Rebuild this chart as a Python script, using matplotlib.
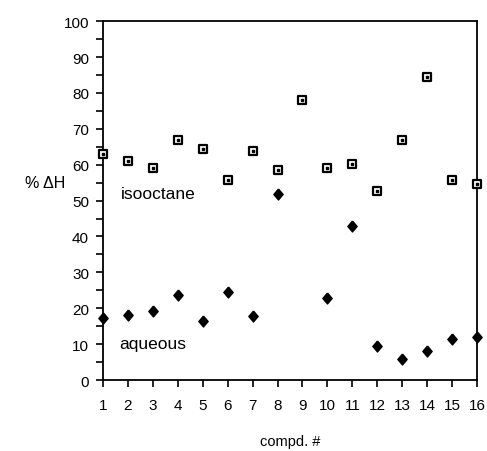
import matplotlib
matplotlib.use("Agg")
import matplotlib.pyplot as plt
from matplotlib.ticker import MultipleLocator

plt.rcParams['font.family'] = ['Liberation Sans', 'DejaVu Sans']

# compound numbers and % dH values
compd = [1, 2, 3, 4, 5, 6, 7, 8, 9, 10, 11, 12, 13, 14, 15, 16]
isooctane = [63.1, 61.1, 59.2, 66.8, 64.4, 55.6, 63.7, 58.6, 78.0, 59.0,
             60.1, 52.7, 66.8, 84.5, 55.6, 54.6]
# no aqueous value for compound 9
aq_compd = [1, 2, 3, 4, 5, 6, 7, 8, 10, 11, 12, 13, 14, 15, 16]
aqueous = [17.2, 18.0, 19.1, 23.7, 16.5, 24.4, 17.8, 51.8, 22.8, 42.8,
           9.5, 5.8, 8.2, 11.4, 12.1]

fig = plt.figure(figsize=(4.87, 4.52), dpi=100)
ax = fig.add_axes([0.2115, 0.157, 0.768, 0.794])

# tall diamond marker
diamond = [(0, 1), (0.85, 0), (0, -1), (-0.85, 0), (0, 1)]

ax.scatter(compd, isooctane, marker='s', s=30, facecolor='white',
           edgecolor='black', linewidth=1.6, zorder=3, clip_on=False)
ax.scatter(compd, isooctane, marker='s', s=2, color='black', zorder=4,
           clip_on=False)
ax.scatter(aq_compd, aqueous, marker=diamond, s=62, color='black',
           zorder=3, clip_on=False)

ax.text(1.7, 52, 'isooctane', fontsize=12.5, va='center', ha='left')
ax.text(1.65, 10.3, 'aqueous', fontsize=12.5, va='center', ha='left')

ax.set_xlim(1, 16)
ax.set_ylim(0, 100)
ax.set_xticks(compd)
ax.yaxis.set_major_locator(MultipleLocator(10))
ax.yaxis.set_minor_locator(MultipleLocator(5))
ax.tick_params(which='both', direction='out', length=5, width=1.2,
               labelsize=11, pad=5)
ax.tick_params(axis='x', pad=8)

for sp in ax.spines.values():
    sp.set_linewidth(1.3)

ax.set_xlabel('compd. #', fontsize=10.5, labelpad=16)
ax.set_ylabel('% ΔH', fontsize=11.5, rotation=0, labelpad=0)
ax.yaxis.set_label_coords(-0.155, 0.53)

fig.savefig('out.png', dpi=100)
